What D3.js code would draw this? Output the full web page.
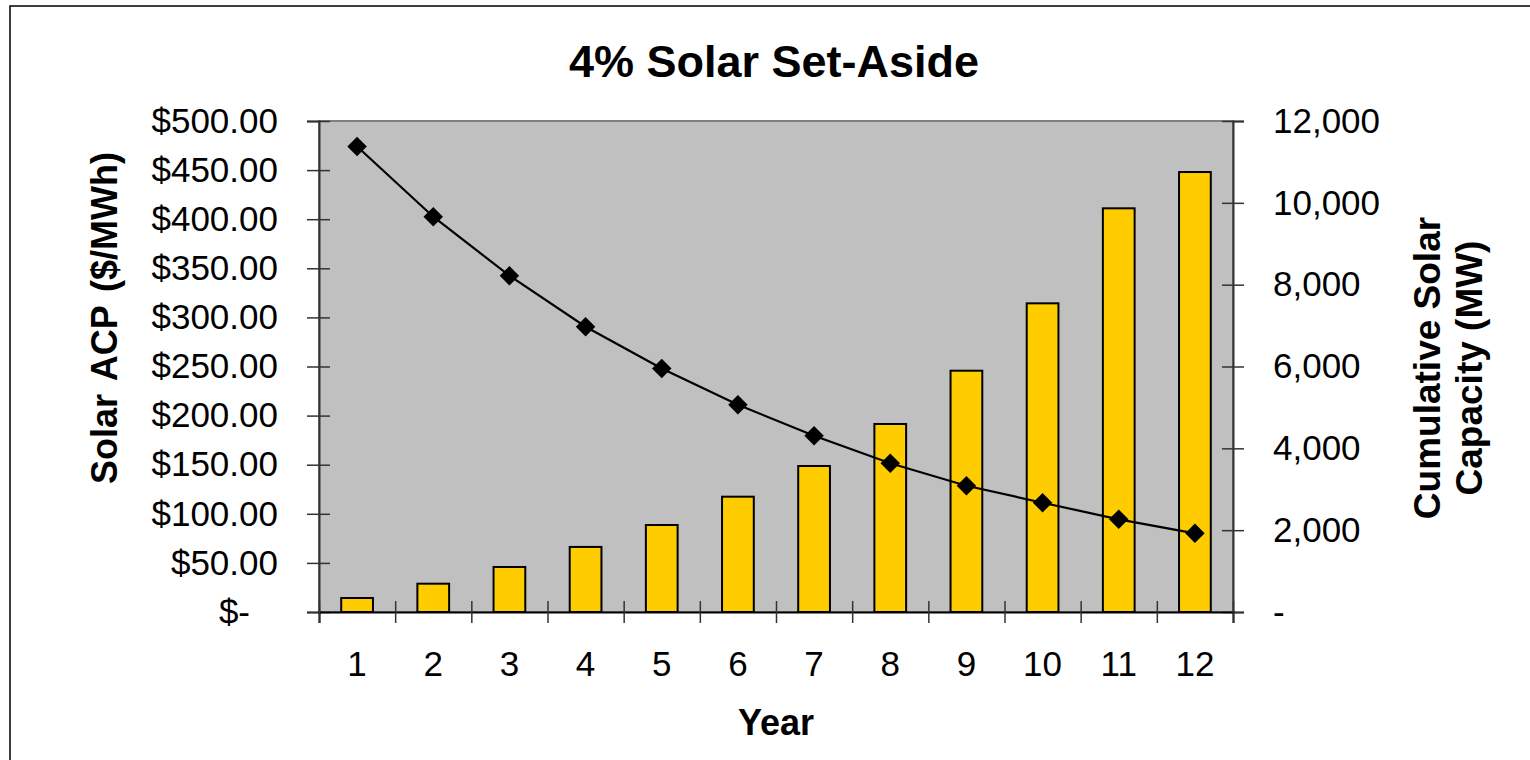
<!DOCTYPE html>
<html>
<head>
<meta charset="utf-8">
<script src="https://cdn.jsdelivr.net/npm/d3@7"></script>
<style>
  body { margin: 0; background: #fff; }
  text { font-family: "Liberation Sans", Arial, sans-serif; }
</style>
</head>
<body>
<div id="chart"></div>
<script>
// data
const years = [1, 2, 3, 4, 5, 6, 7, 8, 9, 10, 11, 12];
const capacityMW = [342, 692, 1100, 1590, 2126, 2818, 3568, 4595, 5897, 7544, 9866, 10753];
const acpPrice = [474, 402.5, 342.5, 290.5, 248, 211, 179.5, 151.5, 128.6, 111.3, 94.4, 80.1];
const leftTicks = [0, 50, 100, 150, 200, 250, 300, 350, 400, 450, 500];
const rightTicks = [0, 2000, 4000, 6000, 8000, 10000, 12000];

// Set the dimensions of the plot area
let width = 1530, height = 760;
let plot = { left: 319, right: 1233, top: 121, bottom: 612 };

let svg = d3.select('#chart').append('svg')
    .attr('width', width)
    .attr('height', height);

// outer chart border (runs off the right / bottom)
svg.append('rect')
    .attr('x', 10).attr('y', 6)
    .attr('width', 1600).attr('height', 900)
    .attr('fill', '#fff')
    .attr('stroke', '#000')
    .attr('stroke-width', 1.5);

// scales
let x = d3.scaleBand().domain(years).range([plot.left, plot.right]).padding(0);
let xLin = d3.scaleLinear().domain([0, years.length]).range([plot.left, plot.right]);
let yL = d3.scaleLinear().domain([0, 500]).range([plot.bottom, plot.top]);
let yR = d3.scaleLinear().domain([0, 12000]).range([plot.bottom, plot.top]);

// plot area background
svg.append('rect')
    .attr('x', plot.left).attr('y', plot.top)
    .attr('width', plot.right - plot.left)
    .attr('height', plot.bottom - plot.top)
    .attr('fill', '#c0c0c0')
    .attr('stroke', '#808080')
    .attr('stroke-width', 2);

// bars (right axis)
let barW = x.step() / 2.4;
svg.selectAll('rect.bar')
    .data(years)
    .enter().append('rect')
    .attr('class', 'bar')
    .attr('x', (d) => x(d) + x.step() / 2 - barW / 2)
    .attr('y', (d, i) => yR(capacityMW[i]))
    .attr('width', barW)
    .attr('height', (d, i) => plot.bottom - yR(capacityMW[i]))
    .attr('fill', '#ffcc00')
    .attr('stroke', '#000')
    .attr('stroke-width', 2);

// price line (left axis)
let line = d3.line()
    .x((d, i) => x(years[i]) + x.step() / 2)
    .y((d) => yL(d));

svg.append('path')
    .datum(acpPrice)
    .attr('d', line)
    .attr('fill', 'none')
    .attr('stroke', '#000')
    .attr('stroke-width', 2.2);

svg.selectAll('path.marker')
    .data(acpPrice)
    .enter().append('path')
    .attr('class', 'marker')
    .attr('d', d3.symbol().type(d3.symbolSquare).size(190))
    .attr('transform', (d, i) => `translate(${x(years[i]) + x.step() / 2},${yL(d)}) rotate(45)`)
    .attr('fill', '#000');

// left axis
let leftAxis = svg.append('g')
    .attr('transform', `translate(${plot.left},0)`)
    .call(d3.axisLeft(yL)
        .tickValues(leftTicks)
        .tickSize(12)
        .tickPadding(29)
        .tickFormat((d) => d === 0 ? '$-' : '$' + d3.format('.2f')(d)));
leftAxis.selectAll('.tick line').attr('x1', 11);
leftAxis.select('.domain').attr('stroke', '#333').attr('stroke-width', 2);
leftAxis.selectAll('.tick line').attr('stroke', '#333').attr('stroke-width', 1.5);
leftAxis.selectAll('text')
    .attr('font-size', 35).attr('fill', '#000')
    .style('font-family', '"Liberation Sans", Arial, sans-serif')
    .attr('dx', (d) => d === 0 ? -28 : 0);

// right axis
let rightAxis = svg.append('g')
    .attr('transform', `translate(${plot.right},0)`)
    .call(d3.axisRight(yR)
        .tickValues(rightTicks)
        .tickSize(11)
        .tickPadding(29)
        .tickFormat((d) => d === 0 ? '-' : d3.format(',')(d)));
rightAxis.selectAll('.tick line').attr('x1', -11).attr('stroke', '#333').attr('stroke-width', 1.5);
rightAxis.select('.domain').attr('stroke', '#333').attr('stroke-width', 2);
rightAxis.selectAll('text')
    .attr('font-size', 35).attr('fill', '#000')
    .style('font-family', '"Liberation Sans", Arial, sans-serif');

// bottom axis: ticks at category boundaries
let bottomAxis = svg.append('g')
    .attr('transform', `translate(0,${plot.bottom})`)
    .call(d3.axisBottom(xLin)
        .tickValues(d3.range(years.length + 1))
        .tickSize(11)
        .tickFormat(''));
bottomAxis.selectAll('.tick line').attr('y1', -11).attr('stroke', '#333').attr('stroke-width', 1.5);
bottomAxis.select('.domain').attr('stroke', '#000').attr('stroke-width', 2);

// bottom labels centred on categories
let bottomLabels = svg.append('g')
    .attr('transform', `translate(0,${plot.bottom})`)
    .call(d3.axisBottom(x).tickSize(0).tickPadding(39));
bottomLabels.select('.domain').remove();
bottomLabels.selectAll('text')
    .attr('font-size', 35).attr('fill', '#000')
    .style('font-family', '"Liberation Sans", Arial, sans-serif');

// title
svg.append('text')
    .attr('x', 774).attr('y', 77)
    .attr('text-anchor', 'middle')
    .attr('font-size', 45)
    .attr('font-weight', 'bold')
    .text('4% Solar Set-Aside');

// x axis title
svg.append('text')
    .attr('x', 776).attr('y', 735)
    .attr('text-anchor', 'middle')
    .attr('font-size', 36)
    .attr('font-weight', 'bold')
    .text('Year');

// left axis title
svg.append('text')
    .attr('transform', 'translate(117,318) rotate(-90)')
    .attr('text-anchor', 'middle')
    .attr('font-size', 36)
    .attr('font-weight', 'bold')
    .attr('word-spacing', 4)
    .text('Solar ACP ($/MWh)');

// right axis title (two lines)
let rTitle = svg.append('text')
    .attr('transform', 'translate(1440,368) rotate(-90)')
    .attr('text-anchor', 'middle')
    .attr('font-size', 37)
    .attr('font-weight', 'bold');
rTitle.append('tspan').attr('x', 0).attr('dy', 0).text('Cumulative Solar');
rTitle.append('tspan').attr('x', 0).attr('dy', 42).text('Capacity (MW)');
</script>
</body>
</html>
